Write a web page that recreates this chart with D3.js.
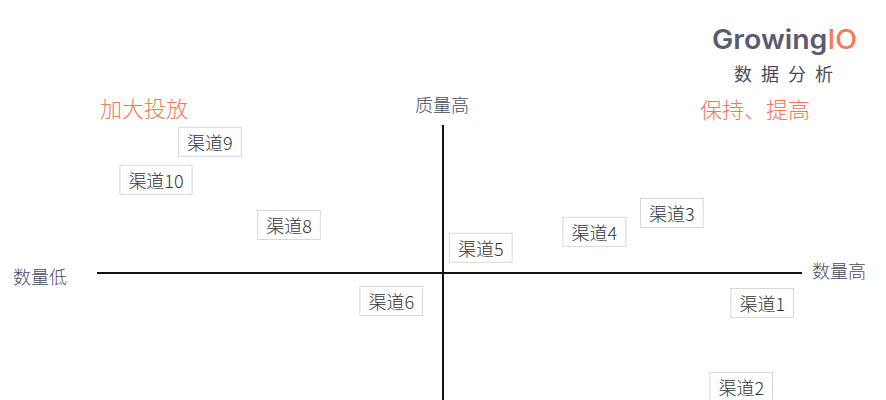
<!DOCTYPE html>
<html><head><meta charset="utf-8">
<script src="https://cdn.jsdelivr.net/npm/d3@7"></script>
<style>body{margin:0;background:#fff}</style>
</head><body><svg id="c" width="886" height="400"></svg>
<script>
const channels = ["渠道1","渠道2","渠道3","渠道4","渠道5","渠道6","渠道8","渠道9","渠道10"];
const quantity = [45.6, 42.6, 32.7, 21.6, 5.4, -7.4, -22, -33.3, -41];
const quality  = [-7.5, -28.5, 15, 10.3, 6.3, -7, 12, 32.8, 23.3];
const quadrantLabels = ["加大投放","保持、提高"];
const axisLabels = ["数量低","数量高","质量高"];

const svg = d3.select("#c");
const x = d3.scaleLinear().domain([-50,50]).range([93,793]);
const y = d3.scaleLinear().domain([-50,50]).range([473,73]);
const font = "'Noto Sans CJK SC', 'Noto Sans', sans-serif";

// axes
svg.append("line").attr("x1",97).attr("x2",802).attr("y1",y(0)).attr("y2",y(0))
  .attr("stroke","#111").attr("stroke-width",2);
svg.append("line").attr("x1",x(0)).attr("x2",x(0)).attr("y1",125).attr("y2",400)
  .attr("stroke","#111").attr("stroke-width",2);

// axis labels
const lab = svg.append("g").attr("font-family",font).attr("font-size",18).attr("font-weight",300).attr("fill","#4a4a5e");
lab.append("text").attr("x",40).attr("y",y(0)+3).attr("text-anchor","middle").attr("dominant-baseline","central").text(axisLabels[0]);
lab.append("text").attr("x",839).attr("y",y(0)-3).attr("text-anchor","middle").attr("dominant-baseline","central").text(axisLabels[1]);
lab.append("text").attr("x",442).attr("y",104).attr("text-anchor","middle").attr("dominant-baseline","central").text(axisLabels[2]);

// quadrant labels
const q = svg.append("g").attr("font-family",font).attr("font-size",22).attr("font-weight",300).attr("fill","#f47a55");
q.append("text").attr("x",100).attr("y",107).attr("dominant-baseline","central").text(quadrantLabels[0]);
q.append("text").attr("x",700).attr("y",108).attr("dominant-baseline","central").text(quadrantLabels[1]);

// channel boxes
const g = svg.append("g").selectAll("g").data(channels).join("g")
  .attr("transform",(d,i)=>`translate(${x(quantity[i])},${y(quality[i])})`);
g.append("text").attr("font-family",font).attr("font-size",18).attr("font-weight",300).attr("fill","#333")
  .attr("text-anchor","middle").attr("dominant-baseline","central").text(d=>d);
g.each(function(){
  const t = d3.select(this).select("text").node().getBBox();
  d3.select(this).insert("rect","text").attr("x",t.x-8.5).attr("y",-14.5).attr("width",t.width+17).attr("height",29)
    .attr("fill","#fff").attr("stroke","#d8d8d8").attr("stroke-width",1);
});

// logo
const logo = svg.append("g");
const lt = logo.append("text").attr("x",712).attr("y",49).attr("font-family","Inter, 'Noto Sans', sans-serif")
  .attr("font-weight",600).attr("font-size",27).attr("fill","#5b5b72")
  .attr("textLength",145).attr("lengthAdjust","spacingAndGlyphs");
lt.append("tspan").text("Growing");
lt.append("tspan").attr("fill","#f47a55").attr("font-weight",500).text("IO");
logo.append("text").attr("x",788).attr("y",73).attr("text-anchor","middle").attr("dominant-baseline","central")
  .attr("font-family",font).attr("font-size",18).attr("fill","#4a4a5a").attr("letter-spacing",9).text("数据分析");
</script></body></html>
